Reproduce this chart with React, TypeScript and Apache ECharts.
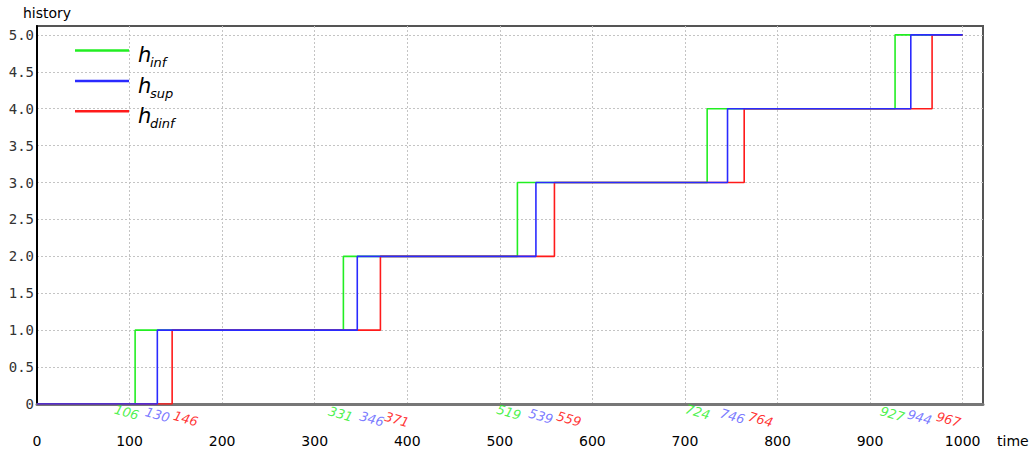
import React, { useEffect, useRef } from "react";
import * as echarts from "echarts";

// ---- data ----
const subscripts = ["inf", "sup", "dinf"];
const levels = [1, 2, 3, 4, 5];
const hInfSteps = [106, 331, 519, 724, 927];
const hSupSteps = [130, 346, 539, 746, 944];
const hDinfSteps = [146, 371, 559, 764, 967];
const timeStart = 0;
const timeEnd = 1000;

// ---- styles / label layout ----
const lineColors = ["#22ee22", "#2a2aff", "#ff1a1a"];
const noteColors = ["#22ee22", "#5a5aff", "#ff0000"];
const noteShiftInf = [-7, -1, -7, -8, -1];
const noteShiftSup = [2, 17, 7, 7, 11];
const noteShiftDinf = [16, 19, 17, 19, 19];

const FONT = "'DejaVu Sans', Verdana, sans-serif";

function stepData(steps: number[]) {
  const d: number[][] = [[timeStart, 0]];
  steps.forEach((t, i) => d.push([t, levels[i]]));
  d.push([timeEnd, levels[levels.length - 1]]);
  return d;
}

export default function App() {
  const ref = useRef<HTMLDivElement>(null);
  useEffect(() => {
    document.body.style.margin = "0";
    const chart = echarts.init(ref.current!, null, { renderer: "svg" });
    const allSteps = [hInfSteps, hSupSteps, hDinfSteps];
    const allShifts = [noteShiftInf, noteShiftSup, noteShiftDinf];

    const lineSeries = allSteps.map((steps, i) => ({
      type: "line",
      name: "h" + subscripts[i],
      data: stepData(steps),
      step: "end",
      showSymbol: false,
      symbol: "none",
      lineStyle: { color: lineColors[i], width: 1.6 },
      itemStyle: { color: lineColors[i] },
      z: i === 1 ? 5 : i === 2 ? 4 : 3,
    }));

    const noteSeries = allSteps.map((steps, i) => ({
      type: "scatter",
      name: "note" + i,
      data: steps.map((t, k) => ({
        value: [t, 0],
        label: { offset: [allShifts[i][k], 0] },
      })),
      symbolSize: 0.1,
      itemStyle: { color: "transparent" },
      silent: true,
      clip: false,
      z: 10,
      label: {
        show: true,
        position: "bottom",
        distance: 4,
        rotate: -16,
        formatter: (p: any) => String(p.value[0]),
        color: noteColors[i],
        fontStyle: "italic",
        fontSize: 13,
        fontFamily: FONT,
      },
    }));

    const graphics: any[] = [];
    const legendY = [50.5, 81, 111.3];
    subscripts.forEach((s, i) => {
      graphics.push({
        type: "line",
        shape: { x1: 75, y1: legendY[i], x2: 129, y2: legendY[i] },
        style: { stroke: lineColors[i], lineWidth: 2.6 },
        z: 20,
      });
      graphics.push({
        type: "text",
        x: 138,
        y: legendY[i] + 4.5,
        style: {
          text: "h",
          fontSize: 21,
          fontStyle: "italic",
          fontFamily: FONT,
          fill: "#000",
          verticalAlign: "middle",
          align: "left",
        },
        z: 20,
      });
      graphics.push({
        type: "text",
        x: 150,
        y: legendY[i] + 12,
        style: {
          text: s,
          fontSize: 13,
          fontStyle: "italic",
          fontFamily: FONT,
          fill: "#000",
          verticalAlign: "middle",
          align: "left",
        },
        z: 20,
      });
    });
    graphics.push({
      type: "text",
      x: 997,
      y: 441,
      style: {
        text: "time",
        fontSize: 14,
        fontFamily: FONT,
        fill: "#000",
        verticalAlign: "middle",
        align: "left",
      },
      z: 20,
    });

    const option: any = {
      animation: false,
      backgroundColor: "#fff",
      grid: {
        left: 37,
        top: 26,
        right: 50,
        bottom: 50,
        show: true,
        borderColor: "#555",
        borderWidth: 2,
        backgroundColor: "#fff",
      },
      xAxis: {
        type: "value",
        min: 0,
        max: 1022,
        interval: 100,
        axisLine: { show: true, onZero: false, lineStyle: { color: "#777", width: 3 } },
        axisTick: { show: false },
        axisLabel: {
          margin: 30,
          color: "#000",
          fontSize: 14,
          fontFamily: FONT,
          formatter: (v: number) => (v > 1000 ? "" : String(v)),
        },
        splitLine: {
          show: true,
          showMinLine: false,
          showMaxLine: false,
          lineStyle: { color: "#c4c4c4", type: [2, 2], width: 1 },
        },
      },
      yAxis: {
        type: "value",
        min: 0,
        max: 5.12,
        interval: 0.5,
        name: "history",
        nameLocation: "end",
        nameGap: 6,
        nameTextStyle: {
          color: "#000",
          fontSize: 14,
          fontFamily: FONT,
          align: "center",
          padding: [0, 0, 0, 20],
        },
        axisLine: { show: true, lineStyle: { color: "#000", width: 2 } },
        axisTick: { show: false },
        axisLabel: {
          margin: 3,
          color: "#333",
          fontSize: 14,
          fontFamily: "'DejaVu Sans Mono', monospace",
          formatter: (v: number) => (v === 0 ? "0" : v > 5.01 ? "" : v.toFixed(1)),
        },
        splitLine: {
          show: true,
          showMinLine: false,
          showMaxLine: false,
          lineStyle: { color: "#c4c4c4", type: [2, 2], width: 1 },
        },
      },
      graphic: graphics,
      series: [...lineSeries, ...noteSeries],
    };
    chart.setOption(option);
    return () => chart.dispose();
  }, []);
  return <div ref={ref} style={{ width: 1033, height: 454 }} />;
}
